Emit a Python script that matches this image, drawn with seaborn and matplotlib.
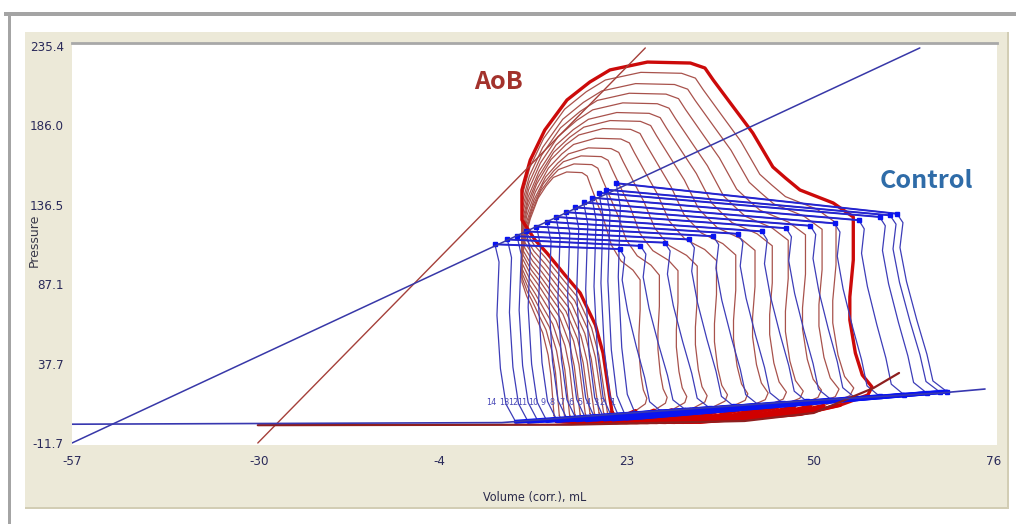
import numpy as np
import pandas as pd
import seaborn as sns
import matplotlib
matplotlib.use("Agg")
from matplotlib import pyplot as plt
from matplotlib.patches import Rectangle
from matplotlib import font_manager

# axis ticks as printed by the PV software
x_ticks = [-57, -30, -4, 23, 50, 76]
x_labels = ["-57", "-30", "-4", "23", "50", "76"]
y_ticks = [-11.7, 37.7, 87.1, 136.5, 186.0, 235.4]
y_labels = ["-11.7", "37.7", "87.1", "136.5", "186.0", "235.4"]

# Control (blue) beats 1..14 of the occlusion
blue_beat = list(range(1, 15))
blue_esv = [21.5, 20.0, 19.0, 18.0, 16.8, 15.5, 14.2, 12.8, 11.5, 10.0, 8.5, 7.2, 5.8, 4.0]
blue_pes = [150, 146, 144, 141, 138, 135, 132, 129, 126, 123, 120, 117, 115, 112]
blue_vej = [62.0, 61.0, 59.5, 56.5, 53.0, 49.5, 46.0, 42.5, 39.0, 35.5, 32.0, 28.5, 25.0, 22.0]
blue_pej = [131, 130, 129, 127, 125, 123.5, 122, 120, 118.5, 117, 115, 113, 111, 109]
blue_edv = [69.2, 68.2, 66.3, 63.0, 59.5, 56.0, 52.5, 49.0, 45.5, 42.0, 38.5, 35.0, 31.5, 28.0]
blue_edp = [20.3, 20.0, 19.4, 18.4, 17.4, 16.3, 15.3, 14.2, 13.2, 12.1, 11.1, 10.0, 9.0, 7.9]
blue_pmin = [4.0, 3.5, 3.5, 3.0, 3.0, 3.0, 2.5, 2.5, 2.5, 2.0, 2.0, 2.0, 1.5, 1.5]

# side shapes
contr_dv = [1.0, 0.72, 0.60, 0.40, 0.19, 0.06, 0.12, 0.0]    # bottom -> top
contr_dp = [0.0, 0.06, 0.21, 0.40, 0.62, 0.81, 0.95, 1.0]
relax_dv = [0.0, 0.6, 0.3, 0.8, 1.6, 3.0]                    # top -> bottom, mL
relax_dp = [1.0, 0.9, 0.6, 0.3, 0.1, 0.0]

# AoB (red): outer (first) beat traced point by point
red_v = [20.9, 21.8, 33.6, 48.0, 53.8, 57.8,
         58.4, 57.0, 56.0, 55.2, 55.2, 55.7, 55.7,
         52.8, 48.0, 45.9, 44.1, 41.2, 38.4, 35.5, 34.3, 32.2, 26.0, 20.6,
         17.7, 14.4, 11.2, 9.1, 7.9, 7.9,
         9.8, 11.5, 14.1, 16.3, 18.5, 19.6, 20.3, 20.9]
red_p = [7.6, 2.6, 1.4, 6.3, 11.9, 18.2,
         23.2, 30.6, 44.3, 64.9, 79.2, 102.2, 129.0,
         137.7, 145.8, 153.3, 160.1, 181.3, 197.4, 214.2, 221.7, 224.8, 225.4, 220.5,
         213.0, 201.8, 183.1, 164.4, 145.8, 127.1,
         114.6, 106.6, 92.9, 81.7, 61.8, 44.3, 24.4, 7.6]
# following AoB beats: end-diastolic volume and peak pressure
red_edv = [57.8, 55.2, 53.1, 50.6, 48.0, 45.6, 43.0, 40.1, 37.2, 34.3, 31.4, 28.6, 25.7]
red_peak = [225.4, 219, 212, 206, 200, 194, 189, 184, 178, 172, 167, 162, 157]

# ESPVR / EDPVR fit lines
blue_espvr_v = [-57.0, 65.3]
blue_espvr_p = [-11.7, 234.2]
red_espvr_v = [-30.2, 25.7]
red_espvr_p = [-11.7, 234.2]
blue_edpvr_v = [-57.0, 5.0, 23.0, 48.0, 68.2, 74.7]
blue_edpvr_p = [0.0, 1.0, 6.8, 14.3, 19.4, 21.9]
red_edpvr_v = [-30.2, 15.0, 40.0, 50.0, 58.6, 62.3]
red_edpvr_p = [-0.6, -0.3, 2.0, 7.0, 22.5, 31.9]


def blue_loop(i):
    esv, pes, vej, pej = blue_esv[i], blue_pes[i], blue_vej[i], blue_pej[i]
    edv, edp, pmin = blue_edv[i], blue_edp[i], blue_pmin[i]
    v = [esv + relax_dv[-1]]
    p = [pmin]
    v += [vej + (edv - vej) * a for a in contr_dv]
    p += [edp + (pej - edp) * b for b in contr_dp]
    v += [esv + a for a in relax_dv]
    p += [pmin + (pes - pmin) * b for b in relax_dp]
    return v, p


rows = []
for i, n in enumerate(blue_beat):
    v, p = blue_loop(i)
    rows += [dict(beat=n, V=a, P=b, grp="blue") for a, b in zip(v, p)]
vmin = min(red_v)
for k in range(len(red_edv)):
    sv = (red_edv[k] - vmin) / (red_edv[0] - vmin)
    sp = red_peak[k] / red_peak[0]
    rows += [dict(beat=k + 1, V=vmin + (a - vmin) * sv, P=b * sp, grp="red")
             for a, b in zip(red_v, red_p)]
df = pd.DataFrame(rows)

sns.set_style("white")
plt.rcParams["font.family"] = ["DejaVu Sans"]
# narrow upright face for the software's axis text, if condensed DejaVu is there
cond = [f for f in font_manager.fontManager.ttflist
        if f.name == "DejaVu Sans" and f.style == "normal"
        and f.weight in (400, "normal") and "ondensed" in f.fname]
narrow = dict(fontproperties=font_manager.FontProperties(fname=cond[0].fname)) if cond else {}

W, H = 1016, 524
fig = plt.figure(figsize=(W / 100, H / 100), dpi=100)


def px_rect(x0, y0, x1, y1, **kw):
    return Rectangle((x0 / W, 1 - y1 / H), (x1 - x0) / W, (y1 - y0) / H,
                     transform=fig.transFigure, zorder=-5, lw=0, **kw)


fig.patches += [px_rect(4, 12, 1016, 16, color="#a4a4a4"),
                px_rect(8, 12, 11, 524, color="#a4a4a4"),
                px_rect(25, 32, 1009, 509, color="#d2cdb4"),
                px_rect(25, 32, 1007, 507, color="#ece9d8")]

ax = fig.add_axes([72 / W, 1 - 445 / H, (997 - 72) / W, (445 - 43) / H])
ax.set_facecolor("white")

red = df[df.grp == "red"]
blue = df[df.grp == "blue"]

# AoB loops
sns.lineplot(data=red[red.beat > 1], x="V", y="P", units="beat", estimator=None,
             sort=False, color="#a8524c", lw=0.9, ax=ax)
sns.lineplot(data=red[red.beat == 1], x="V", y="P", estimator=None,
             sort=False, color="#cc0a0a", lw=2.4, ax=ax)
# AoB filling band
for k in range(len(red_edv)):
    d = red[red.beat == k + 1]
    sns.lineplot(x=d.V.values[1:5], y=d.P.values[1:5], sort=False, estimator=None,
                 color="#d00000", lw=2.8, ax=ax)

# Control loops
sns.lineplot(data=blue, x="V", y="P", units="beat", estimator=None,
             sort=False, color="#3d3db8", lw=0.9, ax=ax)
for i in range(len(blue_beat)):
    # ejection (top) and filling (bottom) segments drawn heavier
    sns.lineplot(x=[blue_vej[i], blue_esv[i]], y=[blue_pej[i], blue_pes[i]],
                 sort=False, estimator=None, color="#2424d0", lw=1.4, ax=ax)
    sns.lineplot(x=[blue_esv[i] + relax_dv[-1], blue_edv[i]],
                 y=[blue_pmin[i], blue_edp[i]], sort=False, estimator=None,
                 color="#0a14f0", lw=3.0, ax=ax)
ax.plot(blue_esv, blue_pes, "s", ms=3.5, color="#0a14f0", ls="none")
ax.plot(blue_edv, blue_edp, "s", ms=3.5, color="#0a14f0", ls="none")
ax.plot(blue_vej, blue_pej, "s", ms=2.5, color="#0a14f0", ls="none")

# beat numbers
for i, n in enumerate(blue_beat):
    ax.text(blue_esv[i] - 0.5, 13.5, str(n), color="#4a4ab8", fontsize=6.5,
            ha="center", va="center", **narrow)

# fit lines
sns.lineplot(x=red_espvr_v, y=red_espvr_p, color="#a5403a", lw=1.0, ax=ax)
sns.lineplot(x=red_edpvr_v, y=red_edpvr_p, sort=False, estimator=None,
             color="#8e1f1f", lw=1.6, ax=ax)
sns.lineplot(x=blue_espvr_v, y=blue_espvr_p, color="#3838a8", lw=1.1, ax=ax)
sns.lineplot(x=blue_edpvr_v, y=blue_edpvr_p, sort=False, estimator=None,
             color="#3838b0", lw=1.2, ax=ax)

ax.text(4.45, 213.0, "AoB", color="#a3322c", fontsize=18, fontweight="bold",
        ha="center", va="center", family=["Noto Sans CJK KR", "DejaVu Sans"])
ax.text(66.2, 151.4, "Control", color="#2f6ca8", fontsize=18, fontweight="bold",
        ha="center", va="center", family=["Noto Sans CJK KR", "DejaVu Sans"])

ax.set_xlim(-57, 76.43)
ax.set_ylim(-12.94, 237.27)
ax.set_xticks(x_ticks)
ax.set_xticklabels(x_labels, **narrow)
ax.set_yticks(y_ticks)
ax.set_yticklabels(y_labels, **narrow)
ax.tick_params(axis="both", direction="out", length=5, width=0.8,
               color="#303060", labelsize=9, labelcolor="#2a2a5a", pad=1)
ax.tick_params(axis="x", pad=2)
for t in ax.get_xticklabels() + ax.get_yticklabels():
    t.set_fontsize(9.5)
for s in ["left", "right", "bottom"]:
    ax.spines[s].set_visible(False)
ax.spines["top"].set_color("#a8a8a8")
ax.spines["top"].set_linewidth(2)

ax.set_xlabel("Volume (corr.), mL", color="#2a2a4a", **narrow)
ax.xaxis.label.set_fontsize(9)
ax.set_ylabel("Pressure", fontsize=9, color="#3a3a4a")
ax.xaxis.set_label_coords(0.5, -0.114)
ax.yaxis.set_label_coords(-0.034, 0.51)

fig.savefig("out.png", dpi=100)
